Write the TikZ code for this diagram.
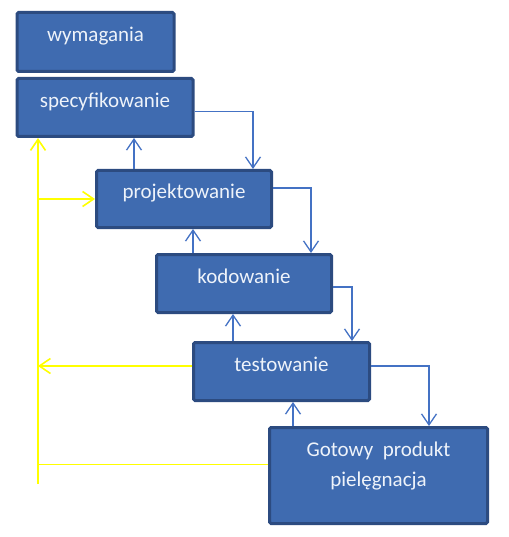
\documentclass[tikz,border=0pt]{standalone}
\usepackage{fontspec}
\setmainfont{Carlito}
\usetikzlibrary{arrows.meta}
\definecolor{boxfill}{HTML}{3F6BB0}
\definecolor{boxdraw}{HTML}{2C4B80}
\definecolor{flowblue}{HTML}{4472C4}
\definecolor{txt}{HTML}{EEF3FA}
\definecolor{yel}{HTML}{FFFF00}
\tikzset{
  stagebox/.style={draw=boxdraw, line width=3pt, fill=boxfill, rounded corners=1.5pt,
    text=txt, font=\fontsize{21}{25}\selectfont, text height=8pt, text depth=8pt, inner sep=0pt},
  lbl/.style={text=txt, font=\fontsize{21}{30}\selectfont, align=center, inner sep=0pt},
  flow/.style={draw=flowblue, line width=1.3pt, -{Straight Barb[length=11pt,width=15pt,line width=1.3pt]}},
  yline/.style={draw=yel, line width=1.6pt},
  yarrow/.style={yline, -{Straight Barb[length=11pt,width=15pt,line width=1.6pt]}},
}
\begin{document}
\begin{tikzpicture}[x=1pt,y=-1pt]
\useasboundingbox (0,0) rectangle (508,537);
\node[stagebox, minimum width=157pt, minimum height=59pt] (wym) at (95.5,42) {wymagania};
\node[stagebox, minimum width=176pt, minimum height=58pt] (spec) at (105,107.5) {specyfikowanie};
\node[stagebox, minimum width=175pt, minimum height=57pt] (proj) at (184,199) {projektowanie};
\node[stagebox, minimum width=175pt, minimum height=58pt] (kod) at (244,283.5) {kodowanie};
\node[stagebox, minimum width=176pt, minimum height=58pt] (test) at (281.5,371.5) {testowanie};
\node[stagebox, minimum width=218pt, minimum height=96pt] (got) at (378.5,475.5) {};
\node[lbl, anchor=base] (gtxt) at (378.5,486) {Gotowy~ produkt\\pielęgnacja};
% forward flow
\draw[flow] ([yshift=-4pt]spec.east) -| ([xshift=69pt]proj.north);
\draw[flow] ([yshift=11pt]proj.east) -| ([xshift=67pt]kod.north);
\draw[flow] ([yshift=-3.5pt]kod.east) -| ([xshift=70.5pt]test.north);
\draw[flow] ([yshift=5.5pt]test.east) -| ([xshift=50.5pt]got.north);
% feedback up
\draw[flow] ([xshift=-50pt]proj.north) -- ([xshift=-50pt]proj.north |- spec.south);
\draw[flow] ([xshift=9pt]proj.south |- kod.north) -- ([xshift=9pt]proj.south);
\draw[flow] ([xshift=-48.5pt]test.north) -- ([xshift=-48.5pt]test.north |- kod.south);
\draw[flow] ([xshift=11.5pt]test.south |- got.north) -- ([xshift=11.5pt]test.south);
% yellow feedback
\coordinate (ybot) at (38,484);
\coordinate (ytop) at (ybot |- spec.south);
\coordinate (tw) at ([yshift=5.5pt]test.west);
\coordinate (gw) at ([yshift=11pt]got.west);
\draw[yarrow] (ybot) -- (ytop);
\draw[yarrow] (ybot |- proj.west) -- (proj.west);
\draw[yarrow] (tw) -- (ybot |- tw);
\draw[yline] (gw) -- (ybot |- gw);
\end{tikzpicture}
\end{document}
